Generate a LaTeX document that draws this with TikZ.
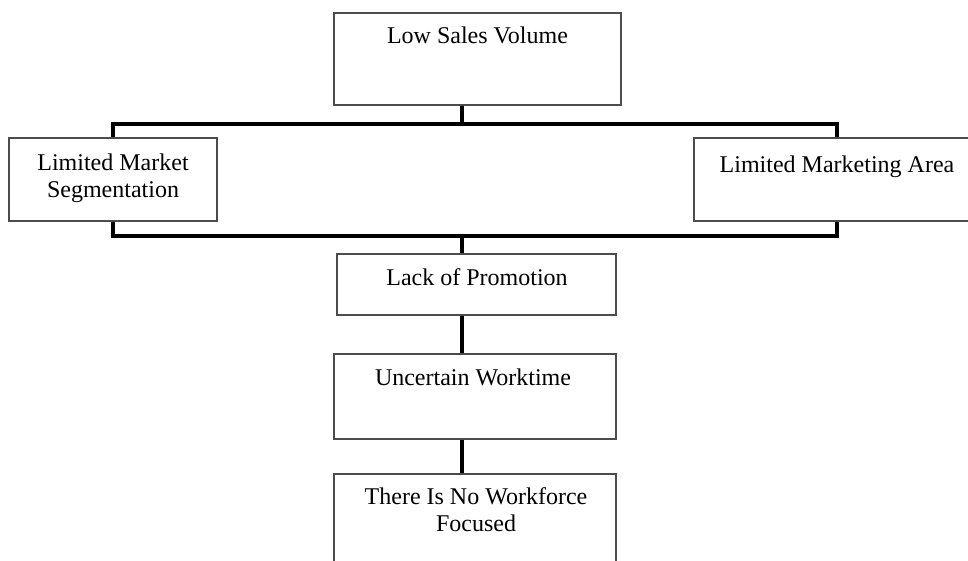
\documentclass[tikz,border=0pt]{standalone}
\usepackage{fontspec}
\setmainfont{Liberation Serif}
\tikzset{
  box/.style={draw=black!70,line width=1.5pt,rectangle,inner sep=0pt},
  txt/.style={inner sep=0pt,align=center,font=\fontsize{24}{27}\selectfont},
  link/.style={line width=4.5pt,black}
}
\begin{document}
\begin{tikzpicture}[x=1pt,y=-1pt]
 \useasboundingbox (0,0) rectangle (968,560);
 % boxes
 \node[box,minimum width=287pt,minimum height=92pt] (low) at (477.5,59) {};
 \node[box,minimum width=208pt,minimum height=83pt] (lms) at (113,179.5) {};
 \node[box,minimum width=286pt,minimum height=83pt] (lma) at (837,179.5) {};
 \node[box,minimum width=279pt,minimum height=61pt] (prom) at (476.5,284.5) {};
 \node[box,minimum width=282pt,minimum height=85pt] (work) at (475,396.5) {};
 \node[box,minimum width=282pt,minimum height=91pt] (force) at (475,519.5) {};
 % texts (base = last line)
 \node[txt,anchor=base] (lowtxt) at (477.5,43) {Low Sales Volume};
 \node[txt,anchor=base] (lmstxt) at (113,197) {Limited Market\\Segmentation};
 \node[txt,anchor=base] (lmatxt) at (837,172) {Limited Marketing Area};
 \node[txt,anchor=base] (promtxt) at (477,285) {Lack of Promotion};
 \node[txt,anchor=base] (worktxt) at (473,385) {Uncertain Worktime};
 \node[txt,anchor=base] (forcetxt) at (476,531) {There Is No Workforce\\Focused};
 % connectors
 \coordinate (topbar) at (462,124);
 \coordinate (botbar) at (462,236);
 \draw[link] (low.south -| topbar) -- (topbar);
 \draw[link] (lms.north) |- (topbar) -| (lma.north);
 \draw[link] (lms.south) |- (botbar) -| (lma.south);
 \draw[link] (botbar) -- (prom.north -| botbar);
 \draw[link] (prom.south -| botbar) -- (work.north -| botbar);
 \draw[link] (work.south -| botbar) -- (force.north -| botbar);
\end{tikzpicture}
\end{document}
